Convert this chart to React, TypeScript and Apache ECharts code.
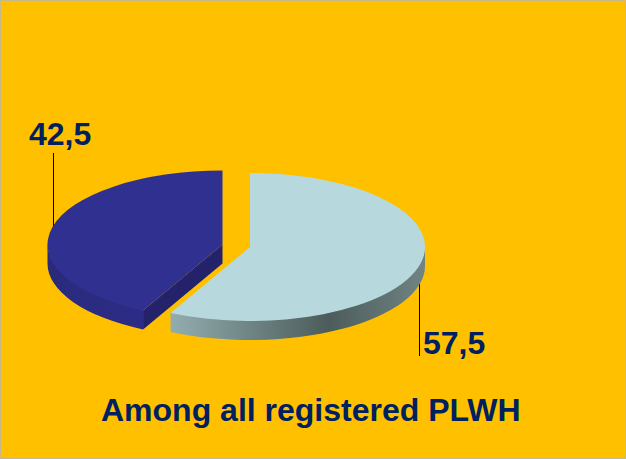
import React, { useEffect, useRef } from "react";
import * as echarts from "echarts";

const categories = ["Group A", "Group B"];
const values = [42.5, 57.5];
const titleText = "Among all registered PLWH";

const RX = 175;
const RY = 74;
const DEPTH = 19;
const centers = [
  { x: 222.5, y: 244.5 },
  { x: 250, y: 247 },
];

const pt = (c: { x: number; y: number }, deg: number, dy = 0) => {
  const a = (deg * Math.PI) / 180;
  return [c.x + RX * Math.sin(a), c.y - RY * Math.cos(a) + dy];
};

const arcTo = (p: number[], large: number, sweep: number) =>
  `A ${RX} ${RY} 0 ${large} ${sweep} ${p[0]} ${p[1]}`;

const lightSide = new echarts.graphic.LinearGradient(0, 0, 1, 0, [
  { offset: 0, color: "#93adaf" },
  { offset: 0.62, color: "#4c5c5b" },
  { offset: 1, color: "#6f8484" },
]);
const darkSide = new echarts.graphic.LinearGradient(0, 0, 1, 0, [
  { offset: 0, color: "#2a2a7c" },
  { offset: 1, color: "#2c2c86" },
]);

function renderSlice(params: any, api: any) {
  const idx = params.dataIndex;
  const value = api.value(0);
  const total = values.reduce((s, v) => s + v, 0);
  const isDark = idx === 0;
  const sweepDeg = (value / total) * 360;
  // Light slice runs clockwise from 12 o'clock; dark slice fills the rest up to 12 o'clock.
  const start = isDark ? 360 - sweepDeg : 0;
  const end = isDark ? 360 : sweepDeg;
  const c = centers[idx];
  const s = pt(c, start);
  const e = pt(c, end);
  const large = sweepDeg > 180 ? 1 : 0;
  const top = `M ${c.x} ${c.y} L ${s[0]} ${s[1]} ${arcTo(e, large, 1)} Z`;

  const children: any[] = [];
  if (isDark) {
    const sUp = pt(c, start, -1);
    const sb = pt(c, start, DEPTH);
    const leftMost = pt(c, 270, -1);
    const leftMostB = pt(c, 270, DEPTH);
    children.push({
      type: "path",
      shape: {
        pathData: `M ${sUp[0]} ${sUp[1]} ${arcTo(leftMost, 0, 1)} L ${leftMostB[0]} ${leftMostB[1]} ${arcTo(sb, 0, 0)} Z`,
      },
      style: { fill: darkSide },
    });
    children.push({
      type: "polygon",
      shape: { points: [[c.x, c.y], s, sb, [c.x, c.y + DEPTH]] },
      style: { fill: "#23226b" },
    });
  } else {
    const rm = pt(c, 90, -1);
    const rmB = pt(c, 90, DEPTH);
    const eUp = pt(c, end, -1);
    const eb = pt(c, end, DEPTH);
    children.push({
      type: "path",
      shape: {
        pathData: `M ${rm[0]} ${rm[1]} ${arcTo(eUp, 0, 1)} L ${eb[0]} ${eb[1]} ${arcTo(rmB, 0, 0)} Z`,
      },
      style: { fill: lightSide },
    });
  }
  children.push({
    type: "path",
    shape: { pathData: top },
    style: { fill: isDark ? "#303090" : "#b7d9de" },
  });
  return { type: "group", children };
}

const label = (v: number) => String(v).replace(".", ",");

export default function App() {
  const ref = useRef<HTMLDivElement>(null);
  useEffect(() => {
    document.body.style.margin = "0";
    const chart = echarts.init(ref.current!, undefined, { renderer: "svg" });
    const font = { fontFamily: "Liberation Sans", fontWeight: "bold" as const, fill: "#002060" };
    chart.setOption({
      animation: false,
      backgroundColor: "#ffc000",
      title: {
        text: titleText,
        left: 101,
        top: 394,
        padding: 0,
        textStyle: {
          color: "#002060",
          fontFamily: "Liberation Sans",
          fontWeight: "bold",
          fontSize: 32,
        },
      },
      series: [
        {
          type: "custom",
          coordinateSystem: "none",
          silent: true,
          renderItem: renderSlice,
          data: categories.map((name, i) => ({ name, value: [values[i]] })),
        },
      ],
      graphic: [
        {
          type: "rect",
          silent: true,
          shape: { x: 0.5, y: 0.5, width: 625, height: 458 },
          style: { fill: "none", stroke: "#c4b88c", lineWidth: 1 },
        },
        {
          type: "line",
          silent: true,
          shape: { x1: 53.5, y1: 153, x2: 53.5, y2: 228 },
          style: { stroke: "#000000", lineWidth: 1 },
        },
        {
          type: "line",
          silent: true,
          shape: { x1: 419.5, y1: 281, x2: 419.5, y2: 356 },
          style: { stroke: "#000000", lineWidth: 1 },
        },
        {
          type: "text",
          silent: true,
          x: 29,
          y: 118,
          style: { text: label(values[0]), fontSize: 32, ...font },
        },
        {
          type: "text",
          silent: true,
          x: 423,
          y: 327,
          style: { text: label(values[1]), fontSize: 32, ...font },
        },
      ],
    });
    return () => chart.dispose();
  }, []);
  return <div ref={ref} style={{ width: 626, height: 459 }} />;
}
